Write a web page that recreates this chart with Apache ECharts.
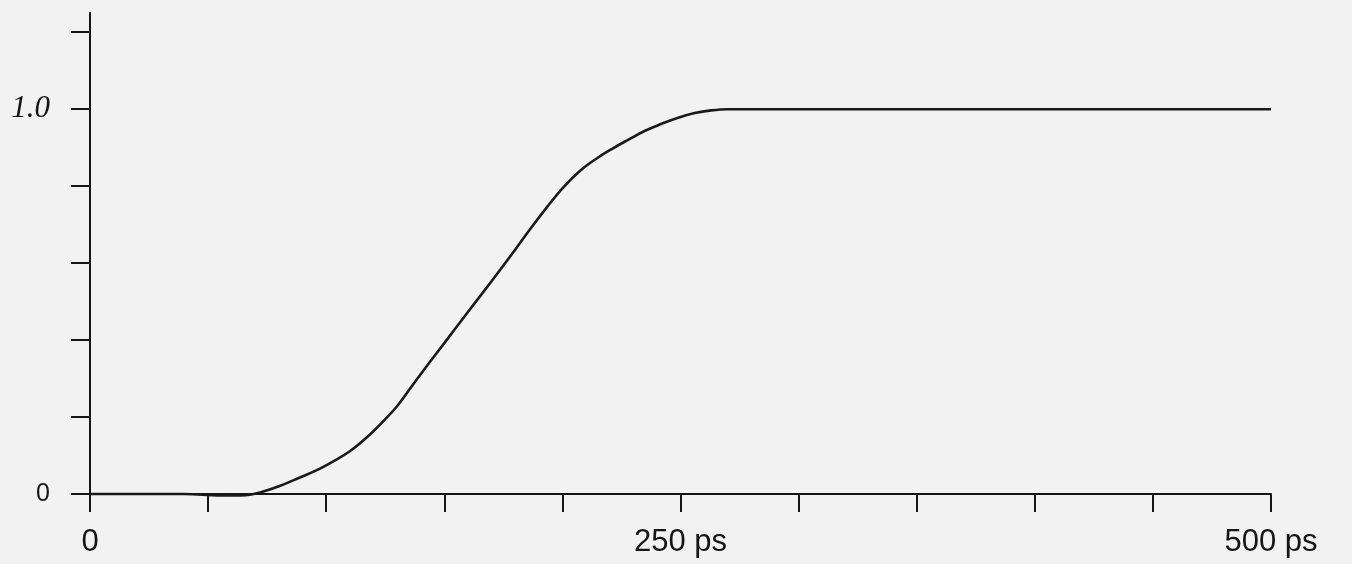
<!DOCTYPE html>
<html>
<head>
<meta charset="utf-8">
<script src="https://cdn.jsdelivr.net/npm/echarts@6/dist/echarts.min.js"></script>
<style>
html,body{margin:0;padding:0;background:#f2f2f2;}
#chart{width:1352px;height:564px;}
</style>
</head>
<body>
<div id="chart"></div>
<script>
// Time (ps) and normalized amplitude
const times = [0, 40, 55, 66, 72, 80, 88.9, 96, 103, 110, 117, 124, 130, 136, 143, 150, 160, 170, 180, 186.3, 193.4, 200.4, 207.5, 214.5, 221.6, 228, 235, 242, 249, 256, 263, 270, 284, 500];
const values = [0, 0, -0.004, -0.003, 0.004, 0.020, 0.043, 0.062, 0.085, 0.111, 0.146, 0.188, 0.228, 0.278, 0.336, 0.392, 0.473, 0.553, 0.635, 0.688, 0.745, 0.797, 0.840, 0.872, 0.899, 0.921, 0.944, 0.962, 0.978, 0.990, 0.997, 1.0, 1.0, 1.0];
const xTicks = [0, 50, 100, 150, 200, 250, 300, 350, 400, 450, 500];
const xLabels = [0, 250, 500];
const yTicks = [0, 0.2, 0.4, 0.6, 0.8, 1.0, 1.2];
const yLabels = [0, 1.0];

const chart = echarts.init(document.getElementById('chart'));
const data = times.map((t, i) => [t, values[i]]);
chart.setOption({
  backgroundColor: '#f2f2f2',
  animation: false,
  grid: { left: 90, right: 81, top: 13, bottom: 70 },
  xAxis: {
    type: 'value', min: 0, max: 500,
    splitLine: { show: false },
    axisLine: { show: true, lineStyle: { color: '#151515', width: 2 } },
    axisTick: { show: true, length: 18, customValues: xTicks, lineStyle: { color: '#151515', width: 2 } },
    axisLabel: {
      customValues: xLabels, margin: 33,
      formatter: v => v === 0 ? '0' : v + ' ps',
      color: '#151515', fontFamily: 'Liberation Sans', fontSize: 31
    }
  },
  yAxis: {
    type: 'value', min: 0, max: 1.25,
    splitLine: { show: false },
    axisLine: { show: true, lineStyle: { color: '#151515', width: 2 } },
    axisTick: { show: true, length: 19, customValues: yTicks, lineStyle: { color: '#151515', width: 2 } },
    axisLabel: {
      customValues: yLabels, margin: 40,
      formatter: v => Math.abs(v) < 1e-6 ? '{s|0}' : '{r|1.0}',
      rich: {
        s: { fontFamily: 'Liberation Sans', fontSize: 25, color: '#151515' },
        r: { fontFamily: 'Liberation Serif', fontStyle: 'italic', fontSize: 31, color: '#151515' }
      }
    }
  },
  series: [{
    type: 'line', data: data, smooth: 0.4,
    showSymbol: false, clip: false,
    lineStyle: { color: '#1a1a1a', width: 2.6 }
  }]
});
</script>
</body>
</html>
